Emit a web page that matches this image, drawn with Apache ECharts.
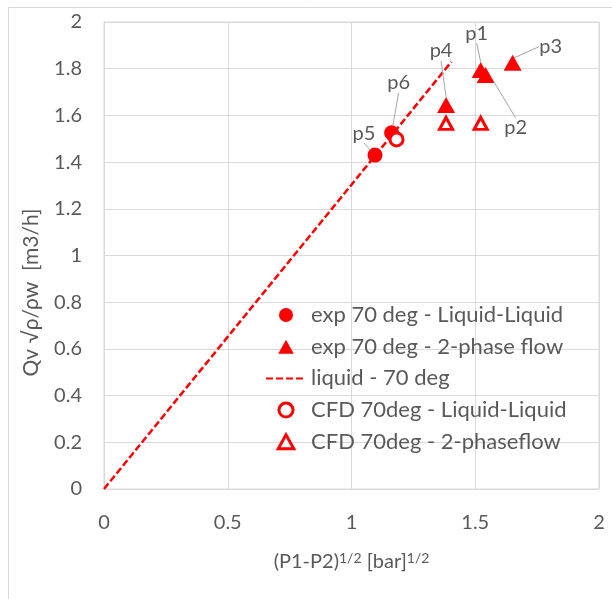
<!DOCTYPE html>
<html>
<head>
<meta charset="utf-8">
<script src="https://cdn.jsdelivr.net/npm/echarts@6/dist/echarts.min.js"></script>
<style>html,body{margin:0;padding:0;background:#fff}#c{width:612px;height:599px}</style>
</head>
<body>
<div id="c"></div>
<script>
// ---- data ----
var xTicks = [0, 0.5, 1, 1.5, 2];
var yTicks = [0, 0.2, 0.4, 0.6, 0.8, 1, 1.2, 1.4, 1.6, 1.8, 2];
var expLiquidNames = ['p5', 'p6'];
var expLiquidX = [1.095, 1.162];
var expLiquidY = [1.430, 1.526];
var expTwoPhaseNames = ['p4', 'p1', 'p2', 'p3'];
var expTwoPhaseX = [1.382, 1.522, 1.542, 1.651];
var expTwoPhaseY = [1.645, 1.794, 1.773, 1.826];
var liquidLineX = [0, 1.404];
var liquidLineY = [0, 1.830];
var cfdLiquidX = [1.182];
var cfdLiquidY = [1.497];
var cfdTwoPhaseX = [1.382, 1.522];
var cfdTwoPhaseY = [1.566, 1.566];
var seriesNames = ['exp 70 deg - Liquid-Liquid', 'exp 70 deg - 2-phase flow', 'liquid - 70 deg', 'CFD 70deg - Liquid-Liquid', 'CFD 70deg - 2-phaseflow'];

// ---- label offsets (layout only) ----
var labelOffsets = {
  p1: [-4, -37], p2: [30, 53], p3: [38, -16], p4: [-5, -54], p5: [-11, -22], p6: [7, -50]
};

function pts(xs, ys, names) {
  return xs.map(function (x, i) {
    var d = { value: [x, ys[i]] };
    if (names) d.name = names[i];
    return d;
  });
}

var FONT = 'Lato';
var GRAY = '#595959';
var RED = '#FF0000';
var TRI = 'path://M5,0 L10,9 L0,9 Z';

var labelCfg = {
  show: true, position: 'inside', formatter: '{b}', color: GRAY,
  fontFamily: FONT, fontSize: 20
};
var labelLineCfg = { show: true, lineStyle: { color: '#A6A6A6', width: 1 } };
function layoutFn(params) {
  var o = labelOffsets[params.text] || [0, 0];
  return { dx: o[0], dy: o[1] };
}

var chart = echarts.init(document.getElementById('c'), null, { renderer: 'canvas' });
chart.setOption({
  animation: false,
  backgroundColor: '#fff',
  graphic: [{
    type: 'rect', left: 6, top: 5, z: -10,
    shape: { width: 620, height: 610 },
    style: { fill: 'none', stroke: '#D9D9D9', lineWidth: 1 }
  }],
  grid: {
    left: 104, top: 22, right: 13, bottom: 110,
    show: true, borderColor: '#D9D9D9', borderWidth: 1, containLabel: false
  },
  xAxis: {
    type: 'value', min: xTicks[0], max: xTicks[xTicks.length - 1], interval: xTicks[1] - xTicks[0],
    axisLine: { show: true, lineStyle: { color: '#D9D9D9' } },
    axisTick: { show: false },
    splitLine: { show: true, lineStyle: { color: '#D9D9D9', width: 1 } },
    axisLabel: { color: GRAY, fontFamily: FONT, fontSize: 20, margin: 24 },
    name: '(P1-P2){s|1/2} [bar]{s|1/2}',
    nameLocation: 'middle', nameGap: 62,
    nameTextStyle: {
      color: GRAY, fontFamily: FONT, fontSize: 20,
      rich: { s: { fontSize: 14, fontFamily: FONT, color: GRAY, verticalAlign: 'top', padding: [0, 0, 8, 0] } }
    }
  },
  yAxis: {
    type: 'value', min: yTicks[0], max: yTicks[yTicks.length - 1], interval: yTicks[1] - yTicks[0],
    axisLine: { show: true, lineStyle: { color: '#D9D9D9' } },
    axisTick: { show: false },
    splitLine: { show: true, lineStyle: { color: '#D9D9D9', width: 1 } },
    axisLabel: { color: GRAY, fontFamily: FONT, fontSize: 20, margin: 22 },
    name: 'Qv \u221A\u03C1/\u03C1w  [m3/h]',
    nameLocation: 'middle', nameGap: 62,
    nameTextStyle: { color: GRAY, fontFamily: FONT, fontSize: 21, padding: [0, 74, 0, 0] }
  },
  legend: {
    orient: 'vertical', left: 265, top: 304, padding: 0,
    itemWidth: 40, itemHeight: 14, itemGap: 9.7, symbolKeepAspect: true,
    textStyle: { color: GRAY, fontFamily: FONT, fontSize: 22, lineHeight: 22 },
    data: [
      { name: seriesNames[0] },
      { name: seriesNames[1], icon: TRI, itemStyle: { borderWidth: 0 } },
      { name: seriesNames[2], itemStyle: { color: 'rgba(0,0,0,0)', borderColor: 'rgba(0,0,0,0)', opacity: 0 } },
      { name: seriesNames[3], itemStyle: { borderWidth: 3 } },
      { name: seriesNames[4], icon: TRI, itemStyle: { borderWidth: 3 } }
    ]
  },
  series: [
    {
      name: seriesNames[2], type: 'line', z: 1,
      data: pts(liquidLineX, liquidLineY),
      symbol: 'none', showSymbol: false,
      lineStyle: { color: RED, width: 2.5, type: [7, 3] },
      itemStyle: { color: RED }
    },
    {
      name: seriesNames[0], type: 'scatter', z: 3,
      data: pts(expLiquidX, expLiquidY, expLiquidNames),
      symbol: 'circle', symbolSize: 15,
      itemStyle: { color: RED, opacity: 1 },
      label: labelCfg, labelLine: labelLineCfg, labelLayout: layoutFn
    },
    {
      name: seriesNames[1], type: 'scatter', z: 3,
      data: pts(expTwoPhaseX, expTwoPhaseY, expTwoPhaseNames),
      symbol: 'triangle', symbolSize: [18, 16],
      itemStyle: { color: RED, opacity: 1 },
      label: labelCfg, labelLine: labelLineCfg, labelLayout: layoutFn
    },
    {
      name: seriesNames[3], type: 'scatter', z: 4,
      data: pts(cfdLiquidX, cfdLiquidY),
      symbol: 'circle', symbolSize: 13,
      itemStyle: { color: '#fff', borderColor: RED, borderWidth: 3, opacity: 1 }
    },
    {
      name: seriesNames[4], type: 'scatter', z: 4,
      data: pts(cfdTwoPhaseX, cfdTwoPhaseY),
      symbol: 'triangle', symbolSize: [13, 12],
      itemStyle: { color: '#fff', borderColor: RED, borderWidth: 3, opacity: 1 }
    }
  ]
});
</script>
</body>
</html>
